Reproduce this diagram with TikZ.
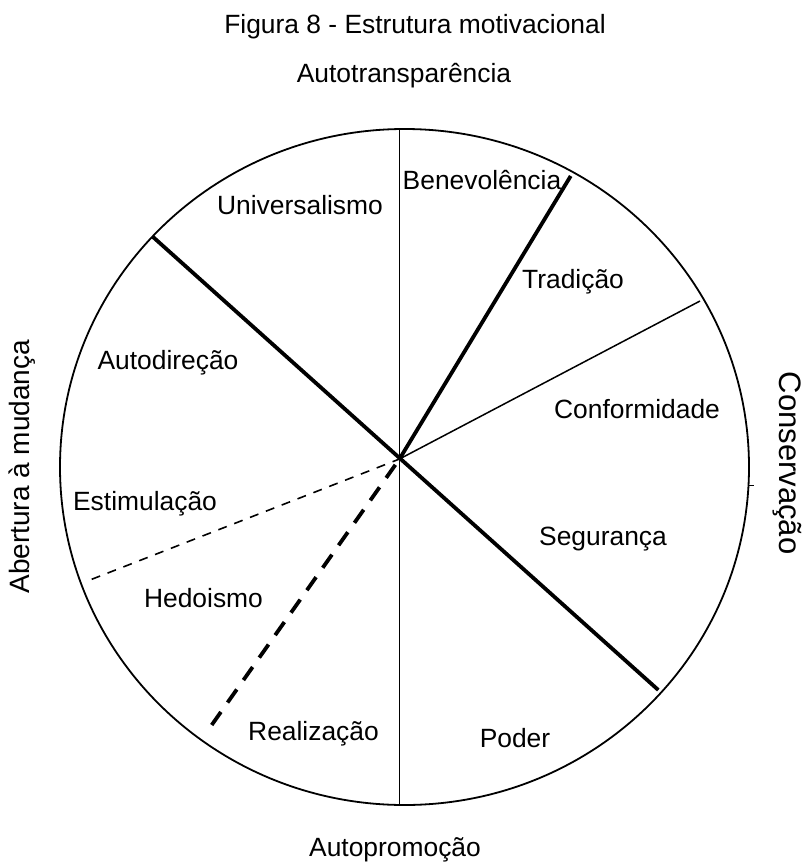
\documentclass[tikz,border=0pt]{standalone}
\usepackage{fontspec}
\setmainfont{Liberation Sans}
\begin{document}
\begin{tikzpicture}[x=1pt,y=-1pt,
  lbl/.style={font=\fontsize{26.4}{30}\selectfont, inner sep=0pt, anchor=base},
  rim/.style={line width=1.8pt},
  thinline/.style={line width=1.5pt},
  thickline/.style={line width=3.8pt},
  thindash/.style={line width=1.6pt, dash pattern=on 9pt off 8pt},
  thickdash/.style={line width=3.8pt, dash pattern=on 16pt off 11.5pt}]
\useasboundingbox (0,0) rectangle (809,862);
\fill[white] (0,0) rectangle (809,862);

% title and the four poles
\node[lbl] (title) at (415,33.3) {Figura 8 - Estrutura motivacional};
\node[lbl] (top) at (404,82) {Autotransparência};
\node[lbl] (bottom) at (395,856.7) {Autopromoção};
\node[lbl, rotate=90, font=\fontsize{28}{30}\selectfont] (left) at (29.5,466.7) {Abertura à mudança};
\node[lbl, rotate=-90, font=\fontsize{31}{33}\selectfont] (right) at (779.5,463) {Conservação};

% the circle and its divisions
\coordinate (O) at (399.5,459);
\coordinate (vTop) at (399.5,129.3);
\coordinate (vBot) at (399.5,804.8);
\coordinate (dUL) at (152.7,236.7);
\coordinate (dLR) at (658.3,690);
\coordinate (tUR) at (570.7,176);
\coordinate (cR) at (700,301);
\coordinate (sL) at (91.7,579.3);
\coordinate (hL) at (211.7,725);
\coordinate (tick0) at (749,485);
\coordinate (tick1) at (753.5,485);

\draw[rim] (404.5,467) ellipse [x radius=344.5pt, y radius=338pt];
\draw[thinline] (vTop) -- (vBot);
\draw[thickline] (dUL) -- (dLR);
\draw[thickline] (O) -- (tUR);
\draw[thinline] (O) -- (cR);
\draw[thindash] (sL) -- (O);
\draw[thickdash] (hL) -- (O);
\draw[line width=1pt] (tick0) -- (tick1);

% value types
\node[lbl] (univ) at (300,214) {Universalismo};
\node[lbl] (bene) at (482,189.5) {Benevolência};
\node[lbl] (trad) at (573,288) {Tradição};
\node[lbl] (auto) at (168,369.3) {Autodireção};
\node[lbl] (conf) at (637,418.3) {Conformidade};
\node[lbl] (esti) at (145,510) {Estimulação};
\node[lbl] (segu) at (603,545) {Segurança};
\node[lbl] (hedo) at (203.5,607.3) {Hedoismo};
\node[lbl] (real) at (313.5,740) {Realização};
\node[lbl] (pode) at (515,747.3) {Poder};
\end{tikzpicture}
\end{document}
